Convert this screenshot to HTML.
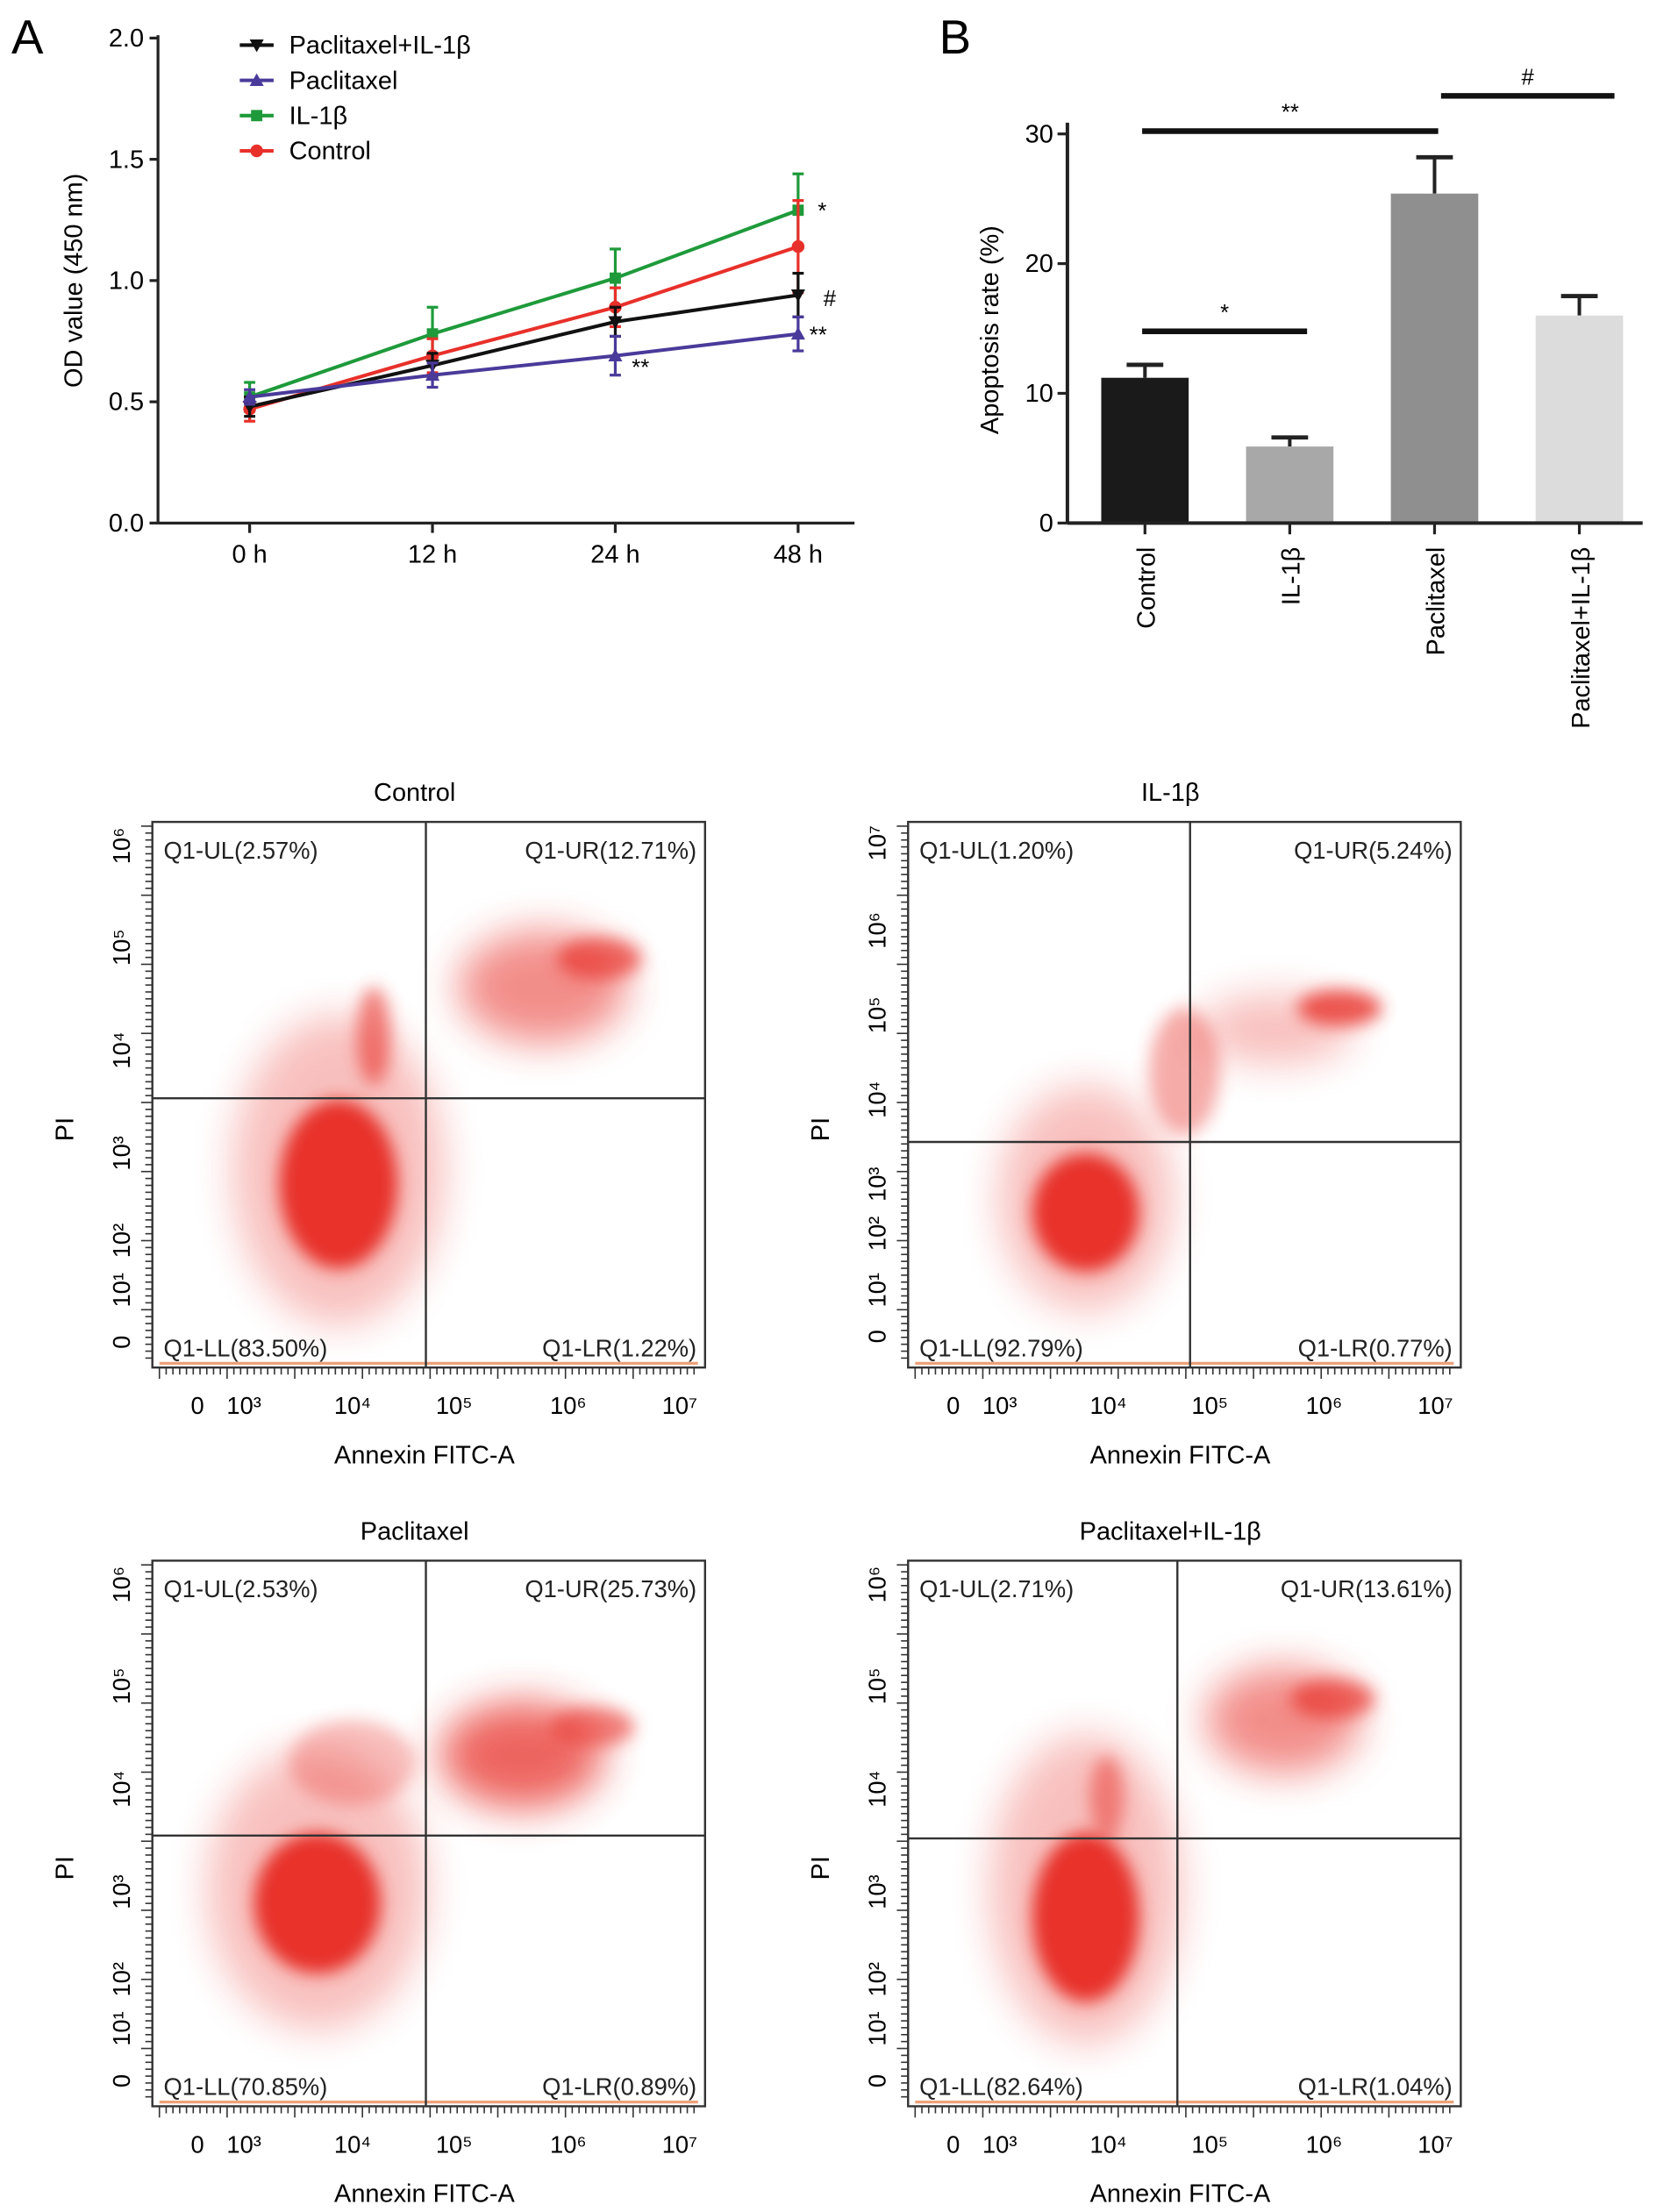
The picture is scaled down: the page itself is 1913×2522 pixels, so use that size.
<!DOCTYPE html>
<html><head><meta charset="utf-8"><style>
html,body{margin:0;padding:0;background:#fff}
svg{display:block;font-family:"Liberation Sans",sans-serif}
</style></head><body>
<svg id="fig" width="1913" height="2522" viewBox="0 0 1190 1569" xmlns="http://www.w3.org/2000/svg">
<defs>
<filter id="blur6" x="-100%" y="-100%" width="300%" height="300%"><feGaussianBlur stdDeviation="6"/></filter>
<filter id="blur14" x="-100%" y="-100%" width="300%" height="300%"><feGaussianBlur stdDeviation="14"/></filter>
</defs>
<text x="8" y="38" font-size="34">A</text>
<text x="666" y="38" font-size="34">B</text>
<g id="lineChart"></g>
<g id="barChart"></g>
<g id="flow"></g>
</svg>
<script>
const NS="http://www.w3.org/2000/svg";
function mk(p,t,a,txt){const e=document.createElementNS(NS,t);for(const k in a)e.setAttribute(k,a[k]);if(txt!==undefined)e.textContent=txt;p.appendChild(e);return e;}

// ---- Panel A data ----
const timeLabels=["0 h","12 h","24 h","48 h"];
const yTicksA=[0.0,0.5,1.0,1.5,2.0];
const seriesNames=["Paclitaxel+IL-1β","Paclitaxel","IL-1β","Control"];
const seriesColors=["#111111","#4a3a9a","#1e9a3a","#e8302a"];
const valsPIL=[0.48,0.65,0.83,0.94];
const valsPac=[0.52,0.61,0.69,0.78];
const valsIL=[0.52,0.78,1.01,1.29];
const valsCtl=[0.47,0.69,0.89,1.14];
const errPIL=[0.04,0.05,0.06,0.09];
const errPac=[0.03,0.05,0.08,0.07];
const errIL=[0.06,0.11,0.12,0.15];
const errCtl=[0.05,0.07,0.08,0.19];

const lc=document.getElementById('lineChart');
const axL=112,axR=606,y0=371,y2=27;
const yA=v=>y0-(v/2.0)*(y0-y2);
const xPos=[177,303,435,566];
const xA=i=>xPos[0]+(xPos[3]-xPos[0])*[0,1/3,2/3,1][i];
let g;
g=mk(lc,'line',{x1:axL,y1:y2-2,x2:axL,y2:y0,stroke:'#222','stroke-width':2});

g=mk(lc,'line',{x1:axL,y1:y0,x2:axR,y2:y0,stroke:'#222','stroke-width':2});

yTicksA.forEach(v=>{const y=yA(v);
 mk(lc,'line',{x1:axL-6,y1:y,x2:axL,y2:y,stroke:'#222','stroke-width':2});
 const t=mk(lc,'text',{x:axL-10,y:y+6,'font-size':18,'text-anchor':'end'},v.toFixed(1));
 });
timeLabels.forEach((l,i)=>{const x=xA(i);
 mk(lc,'line',{x1:x,y1:y0,x2:x,y2:y0+7,stroke:'#222','stroke-width':2});
 const t=mk(lc,'text',{x:x,y:y0+28,'font-size':18,'text-anchor':'middle'},l);
 });
g=mk(lc,'text',{x:58,y:199,'font-size':18,'text-anchor':'middle',transform:'rotate(-90 58 199)'},'OD value (450 nm)');

const allV=[valsPIL,valsPac,valsIL,valsCtl],allE=[errPIL,errPac,errIL,errCtl];
function marker(p,s,x,y){const c=seriesColors[s];
 if(s===0)return mk(p,'polygon',{points:`${x-5},${y-4} ${x+5},${y-4} ${x},${y+5}`,fill:c});
 if(s===1)return mk(p,'polygon',{points:`${x-5},${y+4} ${x+5},${y+4} ${x},${y-5}`,fill:c});
 if(s===2)return mk(p,'rect',{x:x-4,y:y-4,width:8,height:8,fill:c});
 return mk(p,'circle',{cx:x,cy:y,r:4.5,fill:c});}
[2,3,0,1].forEach(s=>{
 const sg=mk(lc,'g',{});
 
 
 const pts=allV[s].map((v,i)=>xA(i)+','+yA(v)).join(' ');
 mk(sg,'polyline',{points:pts,fill:'none',stroke:seriesColors[s],'stroke-width':2.5});
 allV[s].forEach((v,i)=>{const x=xA(i);
  mk(sg,'line',{x1:x,y1:yA(v-allE[s][i]),x2:x,y2:yA(v+allE[s][i]),stroke:seriesColors[s],'stroke-width':2});
  [v-allE[s][i],v+allE[s][i]].forEach(e=>mk(sg,'line',{x1:x-4,y1:yA(e),x2:x+4,y2:yA(e),stroke:seriesColors[s],'stroke-width':2}));
  const p=marker(sg,s,x,yA(v));
  
 });
});
[['*',580,155],['#',584,217],['**',574,243],['**',448,266]].forEach(a=>{
 const t=mk(lc,'text',{x:a[1],y:a[2],'font-size':16},a[0]);
 });
seriesNames.forEach((n,i)=>{const y=32+i*25;
 const lg=mk(lc,'g',{});
 
 mk(lg,'line',{x1:170,y1:y,x2:194,y2:y,stroke:seriesColors[i],'stroke-width':2.5});
 marker(lg,i,182,y);
 mk(lg,'text',{x:205,y:y+6,'font-size':18},n);
});

// ---- Panel B data ----
const barCats=["Control","IL-1β","Paclitaxel","Paclitaxel+IL-1β"];
const barVals=[11.2,5.9,25.4,16.0];
const barErr=[1.0,0.7,2.8,1.5];
const barColors=["#1a1a1a","#a8a8a8","#8f8f8f","#dcdcdc"];
const yTicksB=[0,10,20,30];
const bc=document.getElementById('barChart');
const bL=757,bR=1165,b0=371,b30=95;
const yB=v=>b0-v/30*(b0-b30);
const xB=i=>812+i*102.7;
barCats.forEach((c,i)=>{const x=xB(i),v=barVals[i],e=barErr[i];
 mk(bc,'line',{x1:x,y1:yB(v),x2:x,y2:yB(v+e),stroke:'#222','stroke-width':2.5});
 mk(bc,'line',{x1:x-13,y1:yB(v+e),x2:x+13,y2:yB(v+e),stroke:'#222','stroke-width':3});
 const r=mk(bc,'rect',{x:x-31,y:yB(v),width:62,height:b0-yB(v),fill:barColors[i]});
 
 
 mk(bc,'line',{x1:x,y1:b0,x2:x,y2:b0+8,stroke:'#222','stroke-width':2});
 const t=mk(bc,'text',{x:x+7,y:388,'font-size':18,'text-anchor':'end',transform:`rotate(-90 ${x+7} 388)`},c);
 
});
g=mk(bc,'line',{x1:bL,y1:b30-8,x2:bL,y2:b0,stroke:'#222','stroke-width':2.5});

g=mk(bc,'line',{x1:bL,y1:b0,x2:bR,y2:b0,stroke:'#222','stroke-width':2.5});

yTicksB.forEach(v=>{const y=yB(v);
 mk(bc,'line',{x1:bL-7,y1:y,x2:bL,y2:y,stroke:'#222','stroke-width':2});
 const t=mk(bc,'text',{x:bL-10,y:y+6,'font-size':18,'text-anchor':'end'},v);
 });
g=mk(bc,'text',{x:708,y:234,'font-size':18,'text-anchor':'middle',transform:'rotate(-90 708 234)'},'Apoptosis rate (%)');

[[0,1,30.8,'*',235],[0,2,30,'**',93],[2,3,30,'#',68]].forEach(s=>{
 const sg=mk(bc,'g',{});
 
 const x1=s[0]==2?1022:xB(s[0])-2, x2=s[1]==3?1145:(s[1]==2?1020:927);
 mk(sg,'line',{x1:x1,y1:s[4],x2:x2,y2:s[4],stroke:'#111','stroke-width':4});
 mk(sg,'text',{x:(x1+x2)/2,y:s[4]-8,'font-size':16,'text-anchor':'middle'},s[3]);
});

// ---- Flow cytometry ----
const flowTitles=["Control","IL-1β","Paclitaxel","Paclitaxel+IL-1β"];
const flowUL=["2.57","1.20","2.53","2.71"];
const flowUR=["12.71","5.24","25.73","13.61"];
const flowLL=["83.50","92.79","70.85","82.64"];
const flowLR=["1.22","0.77","0.89","1.04"];
const flowBoxes=[[108,583],[644,583],[108,1107],[644,1107]];
const flowVx=[302,844,302,835];
const flowHy=[779,810,1302,1304];
// clusters: [panel, cx, cy, rx, ry, opacity]
const clusterPanel=[0,0,0,0,0,1,1,1,1,1,2,2,2,2,2,3,3,3,3,3];
const clusterCx=[240,240,265,385,425,770,770,840,950,905,225,225,370,420,250,770,770,910,945,785];
const clusterCy=[840,830,735,700,680,860,850,760,715,730,1350,1340,1245,1225,1250,1360,1340,1220,1205,1275];
const clusterRx=[42,75,12,60,30,38,62,25,30,55,45,78,58,30,45,38,68,55,30,12];
const clusterRy=[60,110,35,40,15,42,80,45,13,25,50,100,38,14,30,60,110,38,14,30];
const clusterOp=[1,0.3,0.6,0.55,0.7,1,0.3,0.4,0.8,0.3,1,0.3,0.75,0.6,0.3,1,0.3,0.55,0.7,0.5];
const xTickLabels=["0","10³","10⁴","10⁵","10⁶","10⁷"];
const xTickOff=[32,65,142,214,295,374];
const yTickLabels6=["10⁶","10⁵","10⁴","10³","10²","10¹","0"];
const yTickOff6=[17,89,162,235,297,332,369];
const yTickLabels7=["10⁷","10⁶","10⁵","10⁴","10³","10²","10¹","0"];
const yTickOff7=[15,77,137,197,257,292,332,365];
const fl=document.getElementById('flow');
flowBoxes.forEach((b,p)=>{
 const [bx,by]=b,W=392,H=387;
 const pg=mk(fl,'g',{});
 
 
 const t=mk(pg,'text',{x:bx+W/2-10,y:by-15,'font-size':18,'text-anchor':'middle'},flowTitles[p]);
 
 clusterPanel.forEach((cp,i)=>{if(cp!==p)return;
  const e=mk(pg,'ellipse',{cx:clusterCx[i],cy:clusterCy[i],rx:clusterRx[i],ry:clusterRy[i],fill:'#e8302a',opacity:clusterOp[i],filter:clusterRx[i]>50?'url(#blur14)':'url(#blur6)'});
  
 });
 mk(pg,'line',{x1:bx+5,y1:by+H-3,x2:bx+W-5,y2:by+H-3,stroke:'#e87a40','stroke-width':2,opacity:0.7});
 const fr=mk(pg,'rect',{x:bx,y:by,width:W,height:H,fill:'none',stroke:'#333','stroke-width':1.5});
 
 mk(pg,'line',{x1:flowVx[p],y1:by,x2:flowVx[p],y2:by+H,stroke:'#333','stroke-width':1.5});
 mk(pg,'line',{x1:bx,y1:flowHy[p],x2:bx+W,y2:flowHy[p],stroke:'#333','stroke-width':1.5});
 [['Q1-UL('+flowUL[p]+'%)',bx+8,by+26,'start'],['Q1-UR('+flowUR[p]+'%)',bx+W-6,by+26,'end'],
  ['Q1-LL('+flowLL[p]+'%)',bx+8,by+H-8,'start'],['Q1-LR('+flowLR[p]+'%)',bx+W-6,by+H-8,'end']].forEach(q=>{
  const qt=mk(pg,'text',{x:q[1],y:q[2],'font-size':17,'text-anchor':q[3],fill:'#222'},q[0]);
  });
 for(let k=0;k<80;k++){const x=bx+5+k*4.8;mk(pg,'line',{x1:x,y1:by+H,x2:x,y2:by+H+(k%10==0?8:5),stroke:'#333','stroke-width':1});}
 for(let k=0;k<78;k++){const y=by+3+k*4.9;mk(pg,'line',{x1:bx-(k%10==0?8:5),y1:y,x2:bx,y2:y,stroke:'#333','stroke-width':1});}
 xTickLabels.forEach((l,i)=>{const tt=mk(pg,'text',{x:bx+xTickOff[i],y:by+H+33,'font-size':17,'text-anchor':'middle'},l);
  });
 const yl=p==1?yTickLabels7:yTickLabels6, yo=p==1?yTickOff7:yTickOff6;
 yl.forEach((l,i)=>{const y=by+yo[i],x=bx-16;
  const tt=mk(pg,'text',{x:x,y:y,'font-size':17,'text-anchor':'middle',transform:`rotate(-90 ${x} ${y})`},l);
  });
 const xt=mk(pg,'text',{x:bx+193,y:by+H+68,'font-size':18,'text-anchor':'middle'},'Annexin FITC-A');
 
 const yx=bx-56,yy=by+218;
 const yt=mk(pg,'text',{x:yx,y:yy,'font-size':18,'text-anchor':'middle',transform:`rotate(-90 ${yx} ${yy})`},'PI');
 
});
</script>
</body></html>
